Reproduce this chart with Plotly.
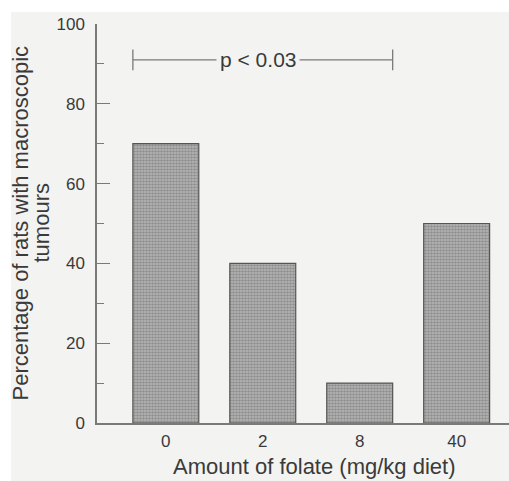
import plotly.graph_objects as go

categories = ["0", "2", "8", "40"]
values = [70, 40, 10, 50]
y_ticks = [0, 20, 40, 60, 80, 100]
x_title = "Amount of folate (mg/kg diet)"
y_title_lines = ["Percentage of rats with macroscopic", "tumours"]
sig_label = "p < 0.03"
sig_level = 91
sig_from, sig_to = 0, 2  # category indices bracketed

BG = "#f3f3f1"
AX = "#7a7a7a"
TXT = "#3a3a3a"
FONT = "Liberation Sans, Arial, sans-serif"
BARW = 0.68

W, H = 509, 481
ML, MR, MT, MB = 97, 0, 24, 58
PW, PH = W - ML - MR, H - MT - MB

fig = go.Figure()
fig.add_trace(go.Bar(
    x=list(range(len(categories))), y=values, width=BARW,
    marker=dict(color="#bababa", line=dict(color="#555555", width=1.2),
                pattern=dict(shape=".", size=3, solidity=0.6, fgcolor="#636363")),
    hoverinfo="skip",
))

# significance bracket
xl = sig_from - BARW / 2
xr = sig_to + BARW / 2
fig.add_shape(type="line", x0=xl, x1=xr, y0=sig_level, y1=sig_level,
              line=dict(color=AX, width=1.3))
for xx in (xl, xr):
    fig.add_shape(type="line", x0=xx, x1=xx, y0=sig_level - 2.6, y1=sig_level + 2.6,
                  line=dict(color=AX, width=1.3))
fig.add_annotation(x=(sig_from + sig_to) / 2 - 0.05, y=sig_level, text=sig_label,
                   showarrow=False, font=dict(family=FONT, size=21, color=TXT),
                   bgcolor=BG, borderpad=3, xanchor="center", yanchor="middle")

# white scan border (top and left)
fig.add_shape(type="rect", xref="paper", yref="paper",
              x0=(11 - ML) / PW, x1=(W - ML) / PW + 0.01,
              y0=-(MB + 2) / PH, y1=(PH + MT - 12) / PH,
              fillcolor=BG, line=dict(width=0), layer="below")

# axis titles as annotations
fig.add_annotation(xref="paper", yref="paper", x=(314 - ML) / PW, y=0, yshift=-(466 - (MT + PH)),
                   text=x_title, showarrow=False, xanchor="center", yanchor="middle",
                   font=dict(family=FONT, size=22, color=TXT))
for i, (line, cx) in enumerate(zip(y_title_lines, (20, 41))):
    fig.add_annotation(xref="paper", yref="paper", x=0, xshift=-(ML - cx), y=0.5,
                       text=line, textangle=-90, showarrow=False,
                       xanchor="center", yanchor="middle",
                       font=dict(family=FONT, size=22, color=TXT))

fig.update_layout(
    width=W, height=H, margin=dict(l=ML, r=MR, t=MT, b=MB),
    paper_bgcolor="white", plot_bgcolor=BG, showlegend=False,
    bargap=0.3,
    xaxis=dict(range=[-0.71, 3.54], tickmode="array",
               tickvals=list(range(len(categories))), ticktext=categories,
               showline=True, linecolor=AX, linewidth=1.5, ticks="",
               showgrid=False, zeroline=False,
               tickfont=dict(family=FONT, size=17, color=TXT), ticklabelstandoff=2),
    yaxis=dict(range=[0, 100], tickvals=y_ticks, showline=True, linecolor=AX, linewidth=1.5,
               ticks="inside", ticklen=13, tickcolor=AX, tickwidth=1.3,
               minor=dict(ticks="inside", ticklen=7, dtick=10, tick0=0, tickcolor=AX, tickwidth=1.3),
               showgrid=False, zeroline=False,
               tickfont=dict(family=FONT, size=17, color=TXT), ticklabelstandoff=7),
)

fig.write_html("out.html", config={"displayModeBar": False},
               post_script="document.body.style.margin='0';document.body.style.overflow='hidden';")
